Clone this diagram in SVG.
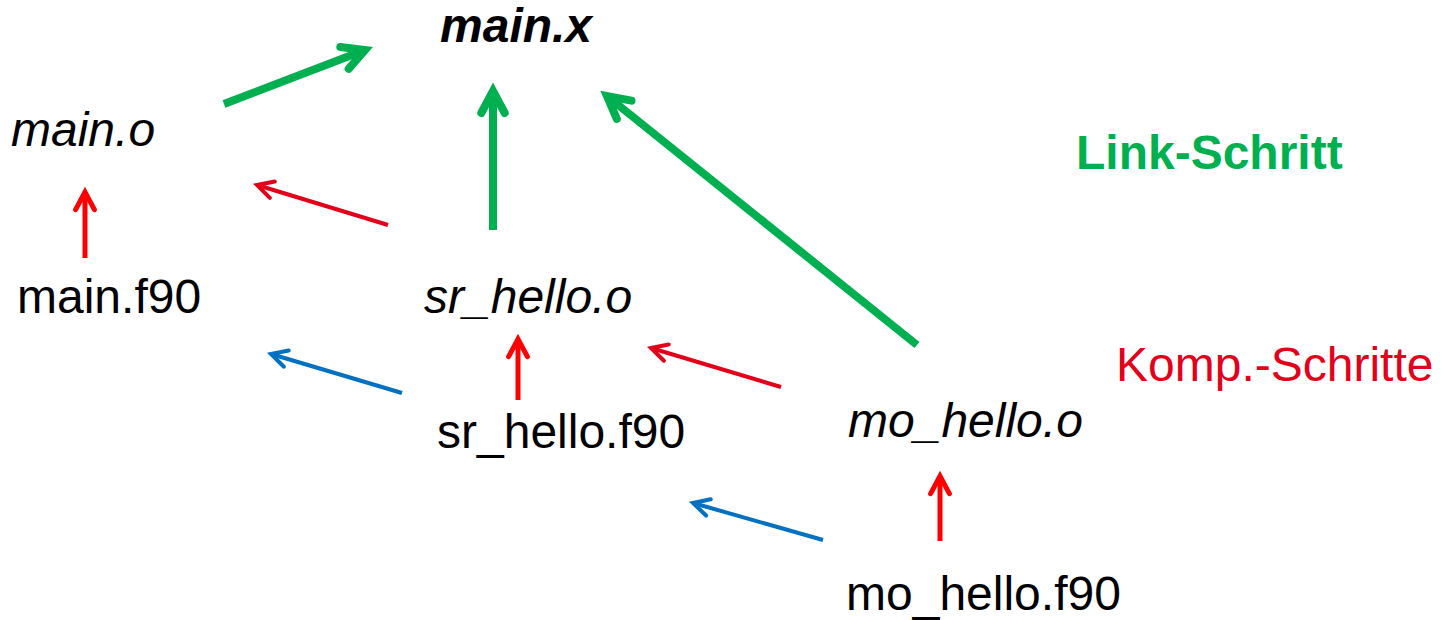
<svg xmlns="http://www.w3.org/2000/svg" width="1446" height="620" viewBox="0 0 1446 620">
<style>
text{font-family:"Liberation Sans",Arial,sans-serif;font-size:48px;fill:#000}
.it{font-style:italic}
.bi{font-style:italic;font-weight:bold}
.link{font-weight:bold;fill:#00B050}
.komp{fill:#E2001A}
.c{fill:none;stroke-linecap:butt}
.g{stroke:#00B050;stroke-width:8;marker-end:url(#mg)}
.r{stroke:#FF0000;stroke-width:5;marker-end:url(#mr)}
.rd{stroke:#E2001A;stroke-width:4;marker-end:url(#mrd)}
.b{stroke:#0070C0;stroke-width:4;marker-end:url(#mb)}
.h{fill:none;stroke-linecap:round;stroke-linejoin:miter}
</style>
<defs>
<marker id="mg" markerUnits="userSpaceOnUse" orient="auto" refX="0" refY="0" markerWidth="60" markerHeight="60" overflow="visible"><path class="h" d="M-22 -11.7 L0 0 L-22 11.7" stroke="#00B050" stroke-width="8"/></marker>
<marker id="mr" markerUnits="userSpaceOnUse" orient="auto" refX="0" refY="0" markerWidth="60" markerHeight="60" overflow="visible"><path class="h" d="M-17.7 -9.4 L0 0 L-17.7 9.4" stroke="#FF0000" stroke-width="5"/></marker>
<marker id="mrd" markerUnits="userSpaceOnUse" orient="auto" refX="0" refY="0" markerWidth="60" markerHeight="60" overflow="visible"><path class="h" d="M-16 -8.5 L0 0 L-16 8.5" stroke="#E2001A" stroke-width="4"/></marker>
<marker id="mb" markerUnits="userSpaceOnUse" orient="auto" refX="0" refY="0" markerWidth="60" markerHeight="60" overflow="visible"><path class="h" d="M-16 -8.5 L0 0 L-16 8.5" stroke="#0070C0" stroke-width="4"/></marker>
</defs>
<g id="connectors">
<path class="c g" d="M224 104 L365 50"/>
<path class="c g" d="M493 230 L493 91"/>
<path class="c g" d="M917 345 L607 96"/>
<path class="c r" d="M85 258 L85 192"/>
<path class="c r" d="M518 400 L518 339"/>
<path class="c r" d="M940 541 L940 476"/>
<path class="c rd" d="M388 225 L257 185"/>
<path class="c rd" d="M781 387 L651 348"/>
<path class="c b" d="M402 393 L271 354"/>
<path class="c b" d="M823 540 L693 503"/>
</g>
<g id="main_x"><text class="bi" x="440" y="42" font-size="45">main.x</text></g>
<g id="main_o"><text class="it" x="11" y="146">main.o</text></g>
<g id="main_f90"><text x="17" y="313">main.f90</text></g>
<g id="sr_hello_o"><text class="it" x="424" y="313">sr_hello.o</text></g>
<g id="sr_hello_f90"><text x="437" y="448">sr_hello.f90</text></g>
<g id="mo_hello_o"><text class="it" x="848" y="437">mo_hello.o</text></g>
<g id="mo_hello_f90"><text x="846" y="610">mo_hello.f90</text></g>
<g id="link_schritt"><text class="link" x="1076" y="169" font-size="47">Link-Schritt</text></g>
<g id="komp_schritte"><text class="komp" x="1116" y="381">Komp.-Schritte</text></g>
</svg>
